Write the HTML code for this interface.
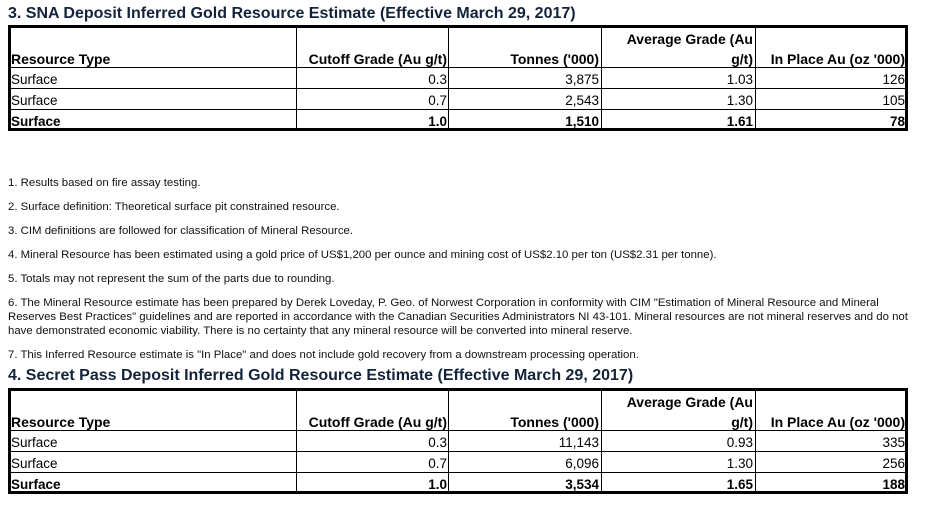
<!DOCTYPE html>
<html><head><meta charset="utf-8"><style>
body{margin:0;width:927px;height:512px;background:#fff;position:relative;overflow:hidden;font-family:"Liberation Sans",Arial,sans-serif;color:#000}
.a{position:absolute;white-space:nowrap;line-height:1}
.t{font-size:16px;font-weight:bold;color:#13233a;left:8px}
.n{font-size:11.4px;left:8px;color:#111}
.tb{position:absolute;left:8px;width:894px;height:100px;border:3px solid #000}
.v{position:absolute;top:0;bottom:0;width:1px;background:#000}
.h{position:absolute;left:0;right:0;height:1px;background:#000}
.c{position:absolute;font-size:13.5px;line-height:1;white-space:nowrap}
.r{text-align:right}
.b{font-weight:bold}
.hd{font-size:14px}
</style></head><body>

<div class="a t" style="top:6px">3. SNA Deposit Inferred Gold Resource Estimate (Effective March 29, 2017)</div>
<div class="tb" style="top:25px">
 <div class="v" style="left:285px"></div><div class="v" style="left:437px"></div><div class="v" style="left:590px"></div><div class="v" style="left:744px"></div>
 <div class="h" style="top:39px"></div><div class="h" style="top:60px"></div><div class="h" style="top:81px"></div>
 <div class="c b hd" style="left:0;top:24px">Resource Type</div>
 <div class="c b hd r" style="right:458px;top:24px">Cutoff Grade (Au g/t)</div>
 <div class="c b hd r" style="right:306px;top:24px">Tonnes ('000)</div>
 <div class="c b hd r" style="right:152px;top:4px">Average Grade (Au</div>
 <div class="c b hd r" style="right:152px;top:24px">g/t)</div>
 <div class="c b hd r" style="right:0;top:24px">In Place Au (oz '000)</div>
 <div class="c" style="left:0;top:45px">Surface</div><div class="c r" style="right:458px;top:45px">0.3</div><div class="c r" style="right:306px;top:45px">3,875</div><div class="c r" style="right:152px;top:45px">1.03</div><div class="c r" style="right:0;top:45px">126</div>
 <div class="c" style="left:0;top:66px">Surface</div><div class="c r" style="right:458px;top:66px">0.7</div><div class="c r" style="right:306px;top:66px">2,543</div><div class="c r" style="right:152px;top:66px">1.30</div><div class="c r" style="right:0;top:66px">105</div>
 <div class="c b" style="left:0;top:87px">Surface</div><div class="c b r" style="right:458px;top:87px">1.0</div><div class="c b r" style="right:306px;top:87px">1,510</div><div class="c b r" style="right:152px;top:87px">1.61</div><div class="c b r" style="right:0;top:87px">78</div>
</div>

<div class="a n" style="top:178px">1. Results based on fire assay testing.</div>
<div class="a n" style="top:202px">2. Surface definition: Theoretical surface pit constrained resource.</div>
<div class="a n" style="top:226px">3. CIM definitions are followed for classification of Mineral Resource.</div>
<div class="a n" style="top:250px">4. Mineral Resource has been estimated using a gold price of US$1,200 per ounce and mining cost of US$2.10 per ton (US$2.31 per tonne).</div>
<div class="a n" style="top:274px">5. Totals may not represent the sum of the parts due to rounding.</div>
<div class="a n" style="top:298px">6. The Mineral Resource estimate has been prepared by Derek Loveday, P. Geo. of Norwest Corporation in conformity with CIM "Estimation of Mineral Resource and Mineral</div>
<div class="a n" style="top:312px">Reserves Best Practices" guidelines and are reported in accordance with the Canadian Securities Administrators NI 43-101. Mineral resources are not mineral reserves and do not</div>
<div class="a n" style="top:326px">have demonstrated economic viability. There is no certainty that any mineral resource will be converted into mineral reserve.</div>
<div class="a n" style="top:350px">7. This Inferred Resource estimate is "In Place" and does not include gold recovery from a downstream processing operation.</div>

<div class="a t" style="top:368px">4. Secret Pass Deposit Inferred Gold Resource Estimate (Effective March 29, 2017)</div>
<div class="tb" style="top:388px">
 <div class="v" style="left:285px"></div><div class="v" style="left:437px"></div><div class="v" style="left:590px"></div><div class="v" style="left:744px"></div>
 <div class="h" style="top:39px"></div><div class="h" style="top:60px"></div><div class="h" style="top:81px"></div>
 <div class="c b hd" style="left:0;top:24px">Resource Type</div>
 <div class="c b hd r" style="right:458px;top:24px">Cutoff Grade (Au g/t)</div>
 <div class="c b hd r" style="right:306px;top:24px">Tonnes ('000)</div>
 <div class="c b hd r" style="right:152px;top:4px">Average Grade (Au</div>
 <div class="c b hd r" style="right:152px;top:24px">g/t)</div>
 <div class="c b hd r" style="right:0;top:24px">In Place Au (oz '000)</div>
 <div class="c" style="left:0;top:45px">Surface</div><div class="c r" style="right:458px;top:45px">0.3</div><div class="c r" style="right:306px;top:45px">11,143</div><div class="c r" style="right:152px;top:45px">0.93</div><div class="c r" style="right:0;top:45px">335</div>
 <div class="c" style="left:0;top:66px">Surface</div><div class="c r" style="right:458px;top:66px">0.7</div><div class="c r" style="right:306px;top:66px">6,096</div><div class="c r" style="right:152px;top:66px">1.30</div><div class="c r" style="right:0;top:66px">256</div>
 <div class="c b" style="left:0;top:87px">Surface</div><div class="c b r" style="right:458px;top:87px">1.0</div><div class="c b r" style="right:306px;top:87px">3,534</div><div class="c b r" style="right:152px;top:87px">1.65</div><div class="c b r" style="right:0;top:87px">188</div>
</div>
</body></html>
